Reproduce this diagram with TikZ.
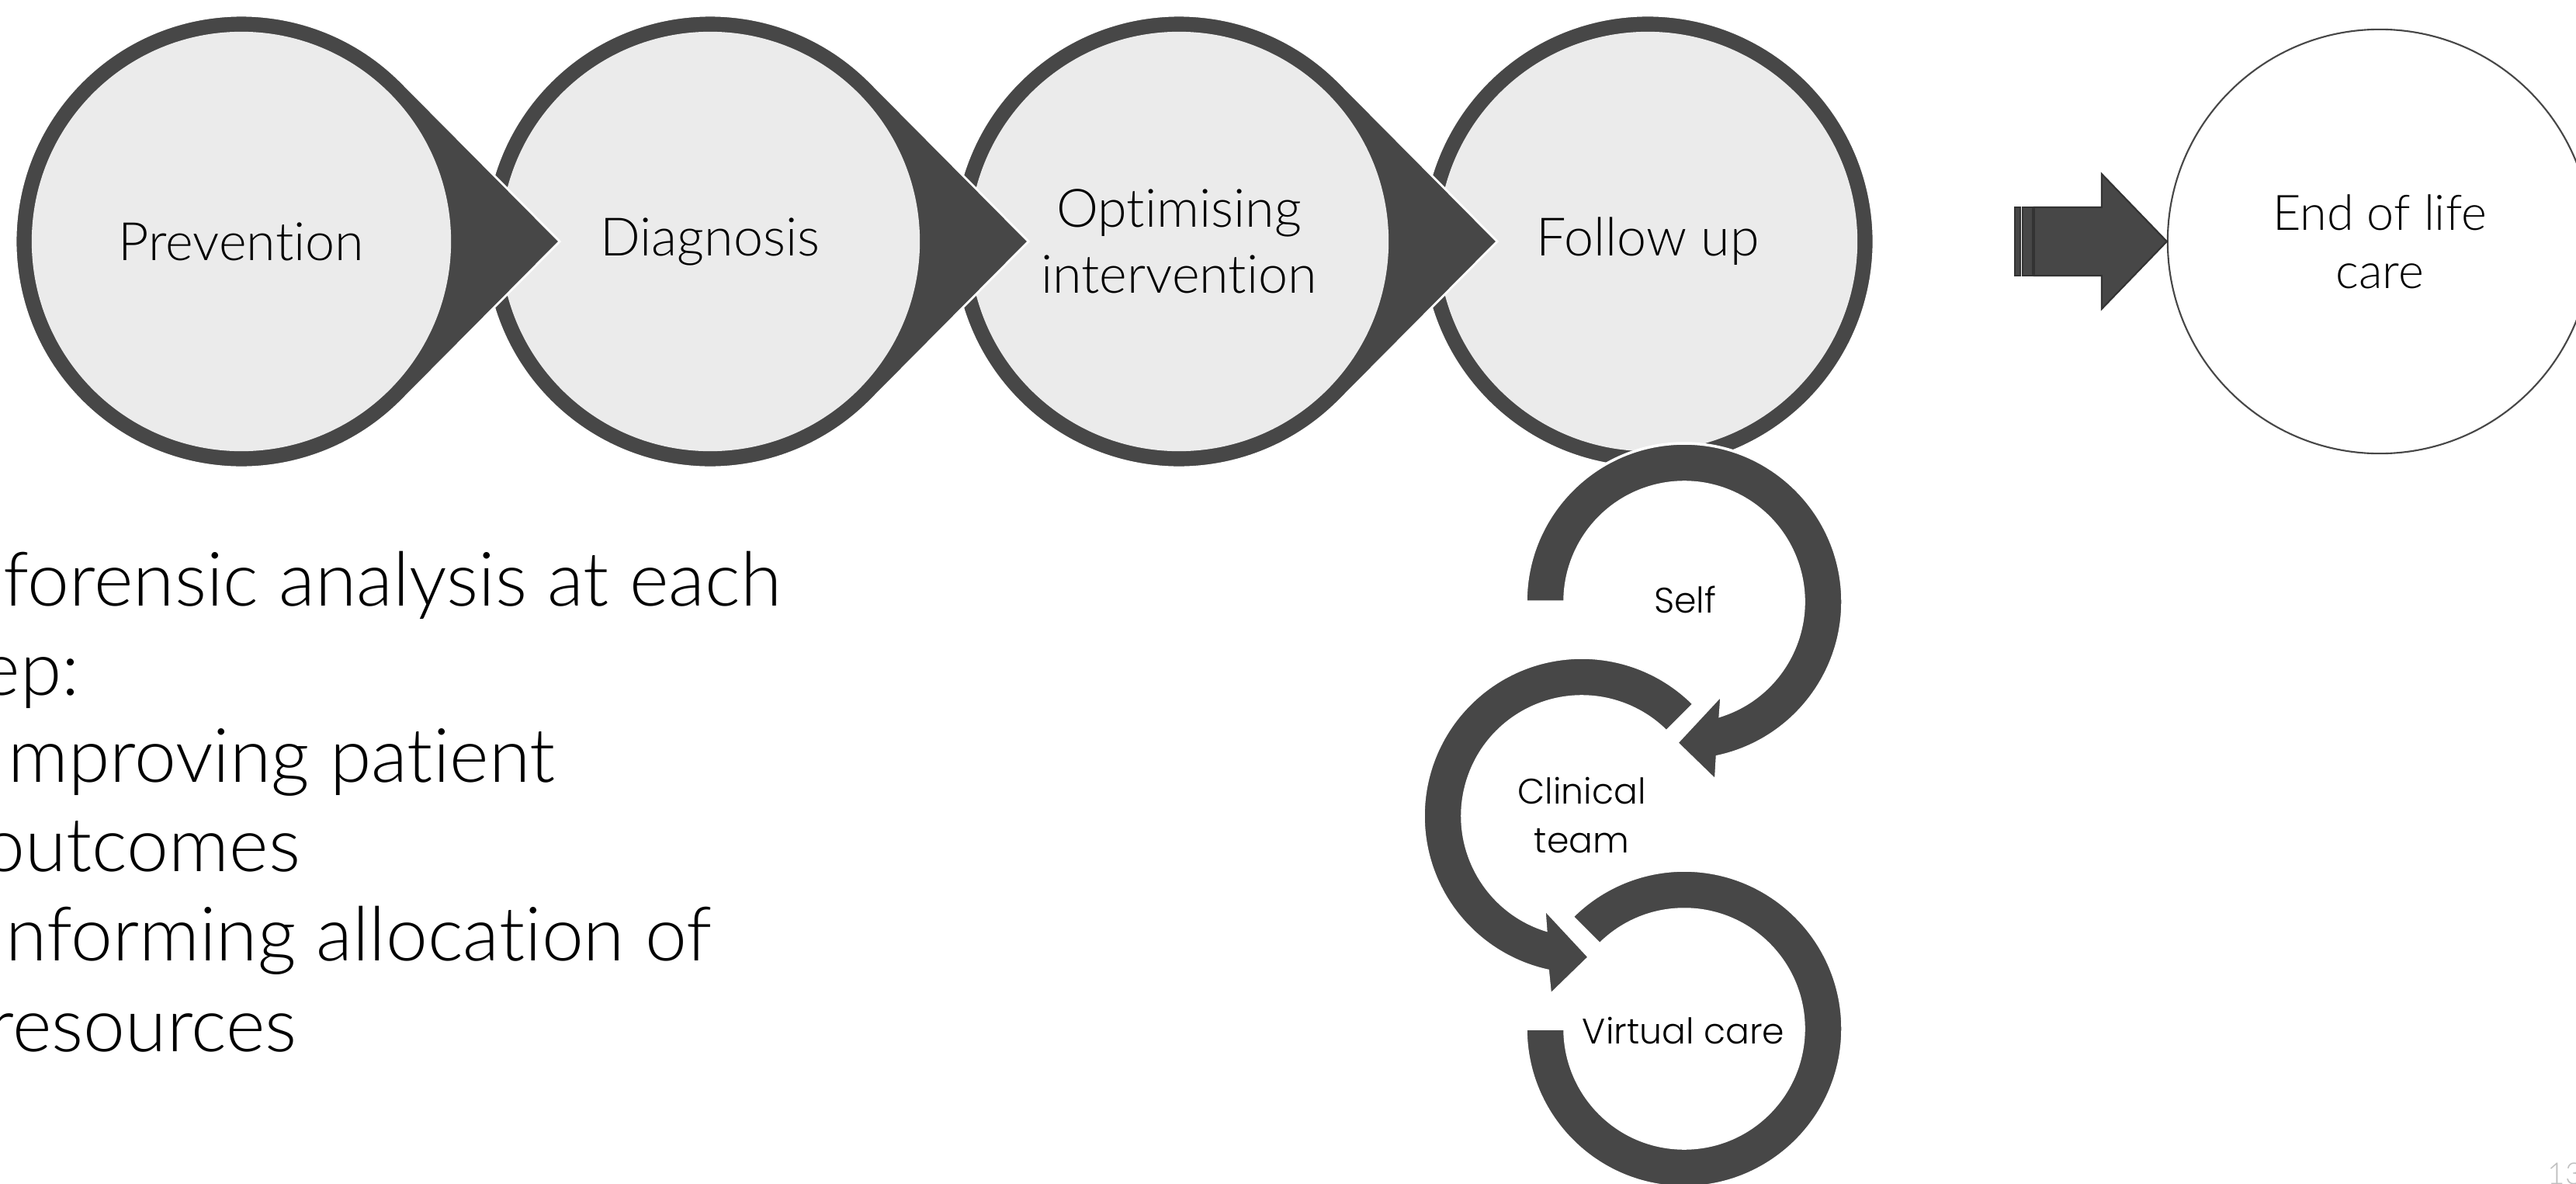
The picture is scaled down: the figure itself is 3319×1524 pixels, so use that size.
\documentclass[tikz,border=0pt]{standalone}
\usepackage{fontspec}
\setmainfont{Lato}[UprightFont=* Light,Ligatures=NoCommon]
\newfontfamily\ringfont{Poppins}[UprightFont=* Light]
\usetikzlibrary{arrows.meta,calc}
\definecolor{darkgrey}{HTML}{474747}
\definecolor{lightgrey}{HTML}{EBEBEB}
\tikzset{
    >=Stealth,
    flow/.style={
        stage/.append style={circle,fill=lightgrey,minimum size=5.4cm,inner sep=0pt,align=center,font=\fontsize{19.4}{24.2}\selectfont},
        final/.append style={circle,draw=darkgrey,line width=0.6pt,fill=white,minimum size=5.46cm,inner sep=0pt,align=center,font=\fontsize{17.9}{21.3}\selectfont},
        ring/.append style={fill=darkgrey,draw=white,line width=0.8pt},
        roundarrow/.append style={fill=darkgrey,draw=white,line width=1pt},
        cyclabel/.append style={font=\ringfont\fontsize{13}{18}\selectfont,align=center,inner sep=0pt},
        bullet/.append style={anchor=base west,inner sep=0pt,font=\fontsize{27.5}{33}\selectfont},
        block/.append style={fill=darkgrey,draw=black!80,line width=0.6pt}
    }
}
\newcommand{\chevron}[1]{%
    \filldraw[ring,shift={(#1)}] (410,0) -- (44.78:291) arc[start angle=44.78,end angle=315.22,radius=291] -- cycle;}

\begin{document}
\begin{tikzpicture}[flow,x=0.01cm,y=0.01cm]
    \useasboundingbox (0,-1524) rectangle (3319,0);
    \clip (0,-1524) rectangle (3319,0);
    \fill[white] (0,-1524) rectangle (3319,0);

    \filldraw[ring] (2123,-311) circle[radius=291];
    \node[stage] (fol) at (2123,-311) {Follow up};
    \chevron{1519,-311}
    \node[stage] (opt) at (1519,-311) {Optimising\\intervention};
    \chevron{915,-311}
    \node[stage] (dia) at (915,-311) {Diagnosis};
    \chevron{311,-311}
    \node[stage] (pre) at (311,-311) {Prevention};

    \node[final] (eol) at (3066,-311) {End of life\\care};
    \filldraw[block] (eol.west) -- ++(-84,87) -- ++(0,-43) -- ++(-87,0) -- ++(0,-88) -- ++(87,0) -- ++(0,-43) -- cycle;
    \filldraw[block] (2606,-267) rectangle (2619,-355);
    \filldraw[block] (2596,-267) rectangle (2603,-355);

    \begin{scope}[shift={(2170,-775)}]
        \filldraw[roundarrow] (180:204) arc[start angle=180,end angle=-78,radius=204] -- (-80:234) -- (-93:182) -- (-68:129) -- (-72.5:154) arc[start angle=-72.5,end angle=180,radius=154] -- cycle;
    \end{scope}
    \begin{scope}[shift={(2038,-1051)}]
        \filldraw[roundarrow] (45:204) arc[start angle=45,end angle=257.6,radius=204] -- (260:234) -- (273:182) -- (248:129) -- (252.5:154) arc[start angle=252.5,end angle=45,radius=154] -- cycle;
    \end{scope}
    \begin{scope}[shift={(2170,-1325)}]
        \filldraw[roundarrow] (180:204) arc[start angle=180,end angle=495,radius=204] -- (135:154) arc[start angle=135,end angle=-180,radius=154] -- cycle;
    \end{scope}
    \node[cyclabel,anchor=base] (self) at (2171,-789) {Self};
    \node[cyclabel] (clin) at (2038,-1050) {Clinical\\team};
    \node[cyclabel,anchor=base] (virt) at (2169,-1344) {Virtual care};

    \node[bullet] (b1) at (4,-780) {forensic analysis at each};
    \node[bullet] (b2) at (-25,-895) {ep:};
    \node[bullet] (b3) at (10,-1007) {mproving patient};
    \node[bullet] (b4) at (-22,-1122) {outcomes};
    \node[bullet] (b5) at (7,-1237) {nforming allocation of};
    \node[bullet] (b6) at (-16,-1354) {resources};

    \node[anchor=north west,inner sep=0pt,text=black!25,font=\fontsize{11}{13}\selectfont] (page) at (3282,-1497) {13};
\end{tikzpicture}
\end{document}
